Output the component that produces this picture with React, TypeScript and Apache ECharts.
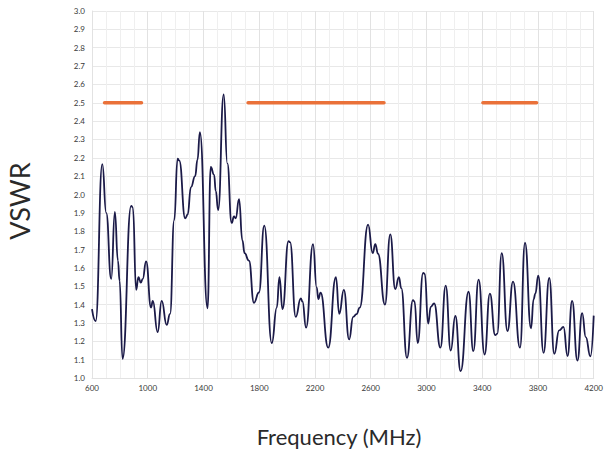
import React, { useEffect, useRef } from "react";
import * as echarts from "echarts";

const freqs = [
  600, 626, 674, 702, 738, 764, 786, 798, 819, 881, 893, 917, 933, 950, 964, 988,
  1024, 1036, 1071, 1100, 1136, 1160, 1190, 1214, 1226, 1269, 1286, 1310, 1340, 1357, 1374,
  1429, 1452, 1476, 1488, 1505, 1545, 1571, 1602, 1619, 1631, 1655, 1679, 1695, 1726,
  1762, 1798, 1836, 1890, 1926, 1945, 1967, 2010, 2021, 2062, 2098, 2110, 2136, 2186,
  2212, 2224, 2240, 2295, 2350, 2374, 2407, 2445, 2474, 2498, 2521, 2581, 2614, 2633,
  2652, 2702, 2740, 2776, 2802, 2819, 2860, 2903, 2914, 2937, 2976, 2988, 3012, 3031,
  3055, 3100, 3138, 3174, 3207, 3245, 3302, 3336, 3374, 3417, 3455, 3493, 3507, 3540,
  3581, 3621, 3671, 3707, 3750, 3769, 3781, 3802, 3840, 3881, 3917, 3952, 3983, 4012,
  4045, 4083, 4117, 4143, 4176, 4200,
];

const vswr = [
  1.375, 1.31, 2.165, 1.9, 1.54, 1.905, 1.64, 1.53, 1.104, 1.938, 1.93, 1.48, 1.55, 1.52, 1.54, 1.635,
  1.384, 1.42, 1.25, 1.42, 1.29, 1.35, 1.86, 2.195, 2.185, 1.87, 1.89, 2.04, 2.1, 2.19, 2.34,
  1.38, 2.15, 2.107, 2.02, 1.915, 2.545, 2.17, 1.845, 1.88, 1.87, 1.975, 1.75, 1.68, 1.64,
  1.41, 1.466, 1.83, 1.19, 1.384, 1.55, 1.375, 1.746, 1.74, 1.333, 1.434, 1.417, 1.274, 1.73,
  1.494, 1.43, 1.465, 1.165, 1.55, 1.35, 1.48, 1.21, 1.333, 1.348, 1.384, 1.836, 1.68, 1.73,
  1.677, 1.4, 1.783, 1.485, 1.55, 1.49, 1.11, 1.424, 1.417, 1.19, 1.573, 1.567, 1.296, 1.388,
  1.406, 1.165, 1.503, 1.15, 1.338, 1.037, 1.47, 1.146, 1.536, 1.128, 1.46, 1.234, 1.24, 1.68,
  1.256, 1.525, 1.165, 1.737, 1.27, 1.43, 1.46, 1.558, 1.137, 1.545, 1.132, 1.26, 1.278, 1.12,
  1.42, 1.095, 1.353, 1.223, 1.118, 1.34,
];

// frequency bands [start, end] drawn at VSWR limit
const bandStarts = [690, 1720, 3405];
const bandEnds = [955, 2695, 3790];
const bandLimit = 2.5;

const xTicks = { min: 600, max: 4200, interval: 400 };
const yTicks = { min: 1.0, max: 3.0, interval: 0.1 };

export default function App() {
  const ref = useRef<HTMLDivElement>(null);
  useEffect(() => {
    if (!ref.current) return;
    const chart = echarts.init(ref.current, undefined, { renderer: "svg" });
    const font = "Lato, 'Noto Sans', sans-serif";
    const bandSeries = bandStarts.map((s, i) => ({
      type: "line",
      data: [
        [s, bandLimit],
        [bandEnds[i], bandLimit],
      ],
      symbol: "none",
      lineStyle: { color: "#EA7139", width: 3.5, cap: "round" },
      z: 3,
    }));
    chart.setOption({
      animation: false,
      grid: { left: 92, right: 9, top: 11, bottom: 72 },
      xAxis: {
        type: "value",
        min: xTicks.min,
        max: xTicks.max,
        interval: xTicks.interval,
        axisLine: { show: true, lineStyle: { color: "#e2e2e2" } },
        axisTick: { show: false },
        minorTick: { show: false, splitNumber: 4 },
        splitLine: { show: true, lineStyle: { color: "#e2e2e2", width: 1 } },
        minorSplitLine: { show: true, lineStyle: { color: "#efefef", width: 1 } },
        axisLabel: {
          color: "#3a3a3a",
          fontSize: 8,
          fontFamily: font,
          margin: 6,
          formatter: (v: number) => String(v),
        },
      },
      yAxis: {
        type: "value",
        min: yTicks.min,
        max: yTicks.max,
        interval: yTicks.interval,
        axisLine: { show: true, lineStyle: { color: "#e2e2e2" } },
        axisTick: { show: false },
        splitLine: { show: true, lineStyle: { color: "#e8e8e8", width: 1 } },
        axisLabel: {
          color: "#3a3a3a",
          fontSize: 8,
          fontFamily: font,
          margin: 7,
          formatter: (v: number) => v.toFixed(1),
        },
      },
      graphic: [
        {
          type: "text",
          x: 19,
          y: 201,
          rotation: Math.PI / 2,
          style: {
            text: "VSWR",
            font: `27px ${font}`,
            fill: "#2a2a2a",
            align: "center",
            verticalAlign: "middle",
          },
        },
        {
          type: "text",
          x: 339,
          y: 436,
          style: {
            text: "Frequency (MHz)",
            font: `22px ${font}`,
            fill: "#2a2a2a",
            align: "center",
            verticalAlign: "middle",
          },
        },
      ],
      series: [
        {
          type: "line",
          data: freqs.map((f, i) => [f, vswr[i]]),
          symbol: "none",
          smooth: 0.5,
          smoothMonotone: "x",
          lineStyle: { color: "#1b1a48", width: 1.8 },
          z: 2,
        },
        ...bandSeries,
      ],
    });
    return () => chart.dispose();
  }, []);
  return <div ref={ref} style={{ width: 606, height: 450, position: "absolute", left: 0, top: 0 }} />;
}
